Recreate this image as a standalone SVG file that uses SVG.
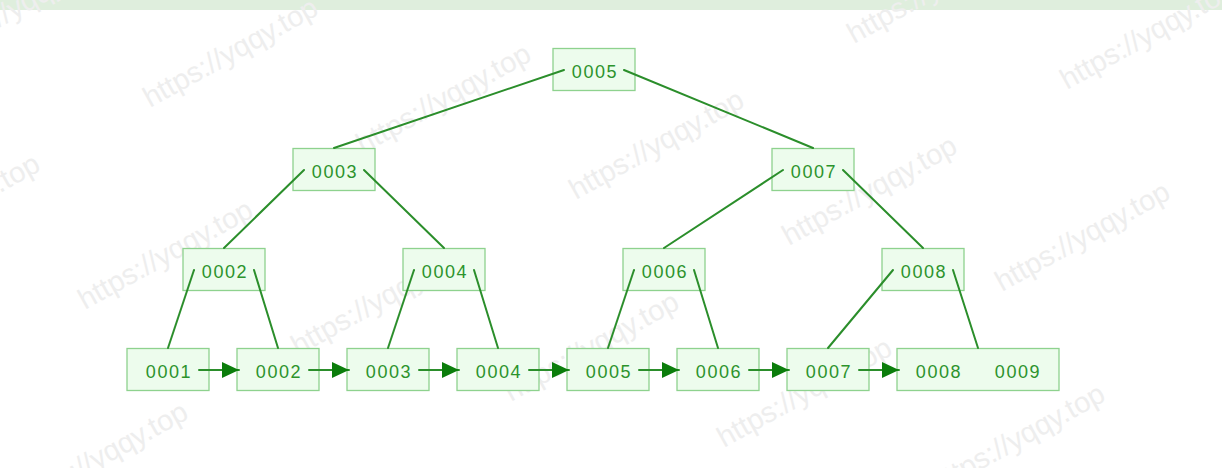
<svg xmlns="http://www.w3.org/2000/svg" width="1222" height="468" viewBox="0 0 1222 468">
<style>
.wm{font-family:"Liberation Sans",Arial,sans-serif;font-size:29px;fill:#eeeeee}
.box{fill:#edfced;stroke:#8ed28e;stroke-width:1.3}
.lbl{font-family:"Liberation Sans",Arial,sans-serif;font-size:18px;fill:#2c932c;text-anchor:middle;letter-spacing:1.6px}
.edge{stroke:#2b8e2b;stroke-width:2;fill:none;stroke-linecap:round}
</style>
<defs>
<marker id="ah" markerUnits="userSpaceOnUse" markerWidth="18" markerHeight="18" viewBox="0 0 18 18" refX="17" refY="9" orient="auto">
<path d="M0,1 L17,9 L0,17 Z" fill="#0b7d0b"/>
</marker>
</defs>
<rect x="0" y="0" width="1222" height="10" fill="#dfeedd"/>
<g id="watermarks">
<text class="wm" transform="translate(-63,62) rotate(-29)">https://yqqy.top</text>
<text class="wm" transform="translate(150,108) rotate(-29)">https://yqqy.top</text>
<text class="wm" transform="translate(363,154) rotate(-29)">https://yqqy.top</text>
<text class="wm" transform="translate(576,200) rotate(-29)">https://yqqy.top</text>
<text class="wm" transform="translate(789,246) rotate(-29)">https://yqqy.top</text>
<text class="wm" transform="translate(1002,292) rotate(-29)">https://yqqy.top</text>
<text class="wm" transform="translate(854,44) rotate(-29)">https://yqqy.top</text>
<text class="wm" transform="translate(1067,90) rotate(-29)">https://yqqy.top</text>
<text class="wm" transform="translate(-128,264) rotate(-29)">https://yqqy.top</text>
<text class="wm" transform="translate(85,310) rotate(-29)">https://yqqy.top</text>
<text class="wm" transform="translate(298,356) rotate(-29)">https://yqqy.top</text>
<text class="wm" transform="translate(511,402) rotate(-29)">https://yqqy.top</text>
<text class="wm" transform="translate(724,448) rotate(-29)">https://yqqy.top</text>
<text class="wm" transform="translate(937,494) rotate(-29)">https://yqqy.top</text>
<text class="wm" transform="translate(20,512) rotate(-29)">https://yqqy.top</text>
</g>
<g id="n5"><rect class="box" x="553" y="48.5" width="82" height="42"/><text class="lbl" x="595" y="78">0005</text></g>
<g id="n3"><rect class="box" x="293" y="148.5" width="82" height="42"/><text class="lbl" x="335" y="178">0003</text></g>
<g id="n7"><rect class="box" x="772" y="148.5" width="82" height="42"/><text class="lbl" x="814" y="178">0007</text></g>
<g id="n2"><rect class="box" x="183" y="248.5" width="82" height="42"/><text class="lbl" x="225" y="278">0002</text></g>
<g id="n4"><rect class="box" x="403" y="248.5" width="82" height="42"/><text class="lbl" x="445" y="278">0004</text></g>
<g id="n6"><rect class="box" x="623" y="248.5" width="82" height="42"/><text class="lbl" x="665" y="278">0006</text></g>
<g id="n8"><rect class="box" x="882" y="248.5" width="82" height="42"/><text class="lbl" x="924" y="278">0008</text></g>
<g id="l1"><rect class="box" x="127" y="348.5" width="82" height="42"/><text class="lbl" x="169" y="378">0001</text></g>
<g id="l2"><rect class="box" x="237" y="348.5" width="82" height="42"/><text class="lbl" x="279" y="378">0002</text></g>
<g id="l3"><rect class="box" x="347" y="348.5" width="82" height="42"/><text class="lbl" x="389" y="378">0003</text></g>
<g id="l4"><rect class="box" x="457" y="348.5" width="82" height="42"/><text class="lbl" x="499" y="378">0004</text></g>
<g id="l5"><rect class="box" x="567" y="348.5" width="82" height="42"/><text class="lbl" x="609" y="378">0005</text></g>
<g id="l6"><rect class="box" x="677" y="348.5" width="82" height="42"/><text class="lbl" x="719" y="378">0006</text></g>
<g id="l7"><rect class="box" x="787" y="348.5" width="82" height="42"/><text class="lbl" x="829" y="378">0007</text></g>
<g id="l8"><rect class="box" x="897" y="348.5" width="162" height="42"/><text class="lbl" x="939" y="378">0008</text><text class="lbl" x="1018" y="378">0009</text></g>
<g id="connectors">
<line class="edge" x1="564" y1="70" x2="334" y2="148"/>
<line class="edge" x1="624" y1="70" x2="813" y2="148"/>
<line class="edge" x1="304" y1="170" x2="224" y2="248"/>
<line class="edge" x1="364" y1="170" x2="444" y2="248"/>
<line class="edge" x1="783" y1="170" x2="664" y2="248"/>
<line class="edge" x1="843" y1="170" x2="923" y2="248"/>
<line class="edge" x1="194" y1="270" x2="168" y2="348"/>
<line class="edge" x1="254" y1="270" x2="278" y2="348"/>
<line class="edge" x1="414" y1="270" x2="388" y2="348"/>
<line class="edge" x1="474" y1="270" x2="498" y2="348"/>
<line class="edge" x1="634" y1="270" x2="608" y2="348"/>
<line class="edge" x1="694" y1="270" x2="718" y2="348"/>
<line class="edge" x1="893" y1="270" x2="828" y2="348"/>
<line class="edge" x1="953" y1="270" x2="978" y2="348"/>
<line class="edge" x1="199" y1="370" x2="239" y2="370" marker-end="url(#ah)"/>
<line class="edge" x1="309" y1="370" x2="349" y2="370" marker-end="url(#ah)"/>
<line class="edge" x1="419" y1="370" x2="459" y2="370" marker-end="url(#ah)"/>
<line class="edge" x1="529" y1="370" x2="569" y2="370" marker-end="url(#ah)"/>
<line class="edge" x1="639" y1="370" x2="679" y2="370" marker-end="url(#ah)"/>
<line class="edge" x1="749" y1="370" x2="789" y2="370" marker-end="url(#ah)"/>
<line class="edge" x1="859" y1="370" x2="899" y2="370" marker-end="url(#ah)"/>
</g>
</svg>
